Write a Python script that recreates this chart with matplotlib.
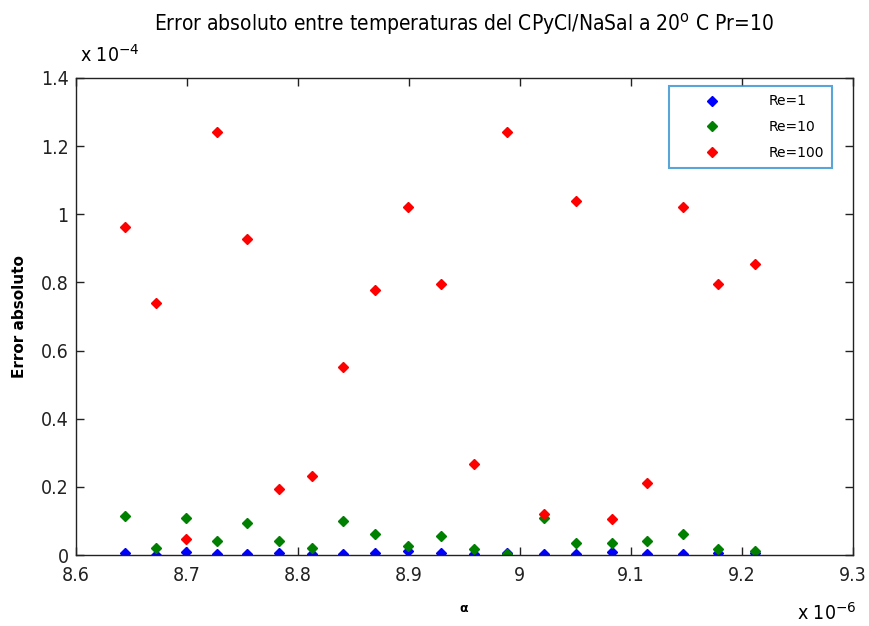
import numpy as np
import matplotlib.pyplot as plt

# alpha values (x 1e-6) and absolute errors (x 1e-4)
alpha = [8.644, 8.672, 8.699, 8.727, 8.754, 8.783, 8.813, 8.841, 8.870, 8.899,
         8.929, 8.959, 8.989, 9.022, 9.051, 9.083, 9.115, 9.147, 9.179, 9.212]
err_re1 = [0.007, 0.001, 0.010, 0.003, 0.003, 0.007, 0.002, 0.003, 0.007, 0.012,
           0.007, 0.004, 0.006, 0.002, 0.003, 0.008, 0.002, 0.002, 0.006, 0.005]
err_re10 = [0.114, 0.021, 0.110, 0.040, 0.095, 0.040, 0.021, 0.100, 0.061, 0.026,
            0.056, 0.017, 0.002, 0.110, 0.036, 0.036, 0.041, 0.061, 0.017, 0.012]
err_re100 = [0.962, 0.740, 0.046, 1.242, 0.928, 0.193, 0.233, 0.552, 0.779, 1.020,
             0.794, 0.267, 1.242, 0.119, 1.040, 0.105, 0.212, 1.020, 0.794, 0.853]

series = [("Re=1", err_re1, "#0000ff"),
          ("Re=10", err_re10, "#008000"),
          ("Re=100", err_re100, "#ff0000")]

fig = plt.figure(figsize=(8.7, 6.26), dpi=100)
ax = fig.add_axes([0.087, 0.1134, 0.893, 0.762])

for label, vals, col in series:
    ax.plot(alpha, vals, linestyle="none", marker="D", markersize=5,
            color=col, markeredgecolor=col, label=label)

ax.set_xlim(8.6, 9.3)
ax.set_ylim(0, 1.4)
ax.set_xticks([8.6, 8.7, 8.8, 8.9, 9.0, 9.1, 9.2, 9.3])
ax.set_xticklabels(["8.6", "8.7", "8.8", "8.9", "9", "9.1", "9.2", "9.3"])
ax.set_yticks([0, 0.2, 0.4, 0.6, 0.8, 1.0, 1.2, 1.4])
ax.set_yticklabels(["0", "0.2", "0.4", "0.6", "0.8", "1", "1.2", "1.4"])
ax.tick_params(direction="in", length=6, width=1, top=True, right=True,
               labelsize=14, colors="#222222")
ax.tick_params(axis="x", pad=8)
ax.tick_params(axis="y", pad=5)
for t in ax.get_xticklabels() + ax.get_yticklabels():
    t.set_fontstretch("condensed")
for s in ax.spines.values():
    s.set_linewidth(1.0)
    s.set_color("#222222")

ax.set_title("Error absoluto entre temperaturas del CPyCl/NaSal a 20$^{\\rm o}$ C Pr=10",
             fontsize=15, fontstretch="condensed", pad=34)
ax.set_ylabel("Error absoluto", fontsize=11, fontweight="bold", labelpad=10)
ax.set_xlabel("\u03b1", fontsize=9, fontweight="bold", labelpad=12)

fig.text(0.092, 0.895, "x 10$^{-4}$", fontsize=14, fontstretch="condensed",
         ha="left", va="bottom")
fig.text(0.916, 0.003, "x 10$^{-6}$", fontsize=14, fontstretch="condensed",
         ha="left", va="bottom")

leg = ax.legend(loc="upper right", bbox_to_anchor=(0.974, 0.983), fontsize=10,
                frameon=True, fancybox=False, borderpad=0.6, labelspacing=0.85,
                handletextpad=1.6, handlelength=5.0, borderaxespad=0)
leg.get_frame().set_edgecolor("#2f8fd0")
leg.get_frame().set_linewidth(1.5)

fig.savefig("out.png", dpi=100)
